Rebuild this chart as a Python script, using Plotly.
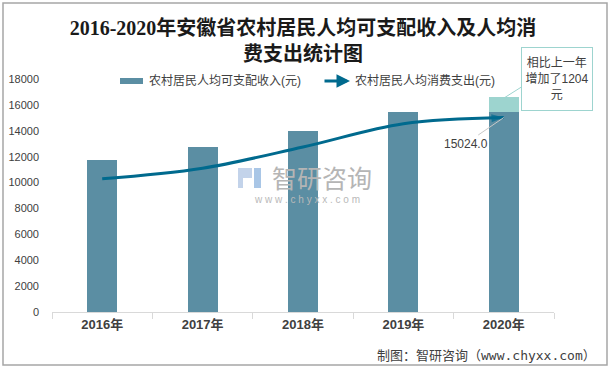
import plotly.graph_objects as go

years = ["2016年", "2017年", "2018年", "2019年", "2020年"]
income = [11720, 12758, 13996, 15416, 16620]
consumption = [10287, 11106, 12748, 14546, 15024]
y_ticks = [0, 2000, 4000, 6000, 8000, 10000, 12000, 14000, 16000, 18000]

title_text = "2016-2020年安徽省农村居民人均可支配收入及人均消<br>费支出统计图"
income_name = "农村居民人均可支配收入(元)"
cons_name = "农村居民人均消费支出(元)"
increase = income[-1] - income[-2]
callout_text = f"相比上一年<br>增加了{increase}<br>元"
footer_text = "制图：智研咨询（www.chyxx.com）"

W, H = 612, 369
L, R, T, B = 52, 58, 79, 57
PW, PH = W - L - R, H - T - B


def px(x):
    return (x - L) / PW


def py(y):
    return (H - B - y) / PH


BAR = "#5b8ea3"
LINE = "#006a8e"
LIGHT = "#9dd4cf"
TXT = "#404040"

base_part = income[:-1] + [income[-2]]
inc_part = [0] * (len(income) - 1) + [increase]

fig = go.Figure()
fig.add_trace(go.Bar(x=years, y=base_part, marker=dict(color=BAR, line=dict(width=0)),
                     width=0.3, name=income_name, showlegend=False))
fig.add_trace(go.Bar(x=years, y=inc_part, marker=dict(color=LIGHT, line=dict(width=0)),
                     width=0.3, showlegend=False))
fig.add_trace(go.Scatter(x=years, y=consumption, mode="lines+markers",
                         line=dict(color=LINE, width=3, shape="spline", smoothing=1),
                         marker=dict(symbol=["circle"] * 4 + ["arrow"],
                                     size=[0] * 4 + [13], color=LINE,
                                     angleref="previous", line=dict(width=0)),
                         name=cons_name, showlegend=False))

font_title = "Liberation Serif, Noto Sans CJK SC, serif"
font_main = "Liberation Sans, Noto Sans CJK SC, sans-serif"

annotations = [
    # legend texts
    dict(x=px(147), y=py(81), xref="paper", yref="paper", text=income_name,
         showarrow=False, xanchor="left", yanchor="middle",
         font=dict(size=12, color=TXT, family=font_main)),
    dict(x=px(353), y=py(81), xref="paper", yref="paper", text=cons_name,
         showarrow=False, xanchor="left", yanchor="middle",
         font=dict(size=12, color=TXT, family=font_main)),
    # legend arrow
    dict(x=px(350), y=py(81), ax=-27, ay=0, xref="paper", yref="paper",
         axref="pixel", ayref="pixel", text="", showarrow=True, arrowhead=2,
         arrowsize=0.9, arrowwidth=3, arrowcolor=LINE),
    # data label with leader
    dict(x=years[-1], y=consumption[-1], text=f"{consumption[-1]:.1f}", showarrow=True,
         arrowhead=0, arrowwidth=1, arrowcolor="#c8c8c8", ax=-38, ay=26,
         xanchor="center", yanchor="middle",
         font=dict(size=12, color=TXT, family=font_main)),
    # callout
    dict(x=px(557), y=py(79), xref="paper", yref="paper", text=callout_text,
         showarrow=False, xanchor="center", yanchor="middle", width=68, height=60,
         bordercolor=LIGHT, borderwidth=1, bgcolor="white",
         font=dict(size=12, color=TXT, family=font_main)),
    # watermark
    dict(x=px(322), y=py(177), xref="paper", yref="paper", text="智研咨询",
         showarrow=False, font=dict(size=25, color="#b5b5b5", family="Noto Sans CJK SC")),
    dict(x=px(307), y=py(199), xref="paper", yref="paper", text="w w w . c h y x x . c o m",
         showarrow=False, font=dict(size=10, color="#b9b9b9", family=font_main)),
    # footer
    dict(x=px(598), y=py(355), xref="paper", yref="paper", text=footer_text,
         showarrow=False, xanchor="right", yanchor="middle",
         font=dict(size=13, color=TXT, family="DejaVu Sans Mono, Noto Sans CJK SC")),
]

shapes = [
    # outer border
    dict(type="rect", xref="paper", yref="paper", x0=px(3), x1=px(607), y0=py(365), y1=py(3),
         line=dict(color="#a6a6a6", width=1.5), layer="below"),
    # legend swatch
    dict(type="rect", xref="paper", yref="paper", x0=px(120), x1=px(143), y0=py(84), y1=py(78),
         fillcolor=BAR, line=dict(width=0)),
    # callout pointer
    dict(type="line", xref="paper", yref="paper", x0=px(504), y0=py(98), x1=px(523), y1=py(86),
         line=dict(color=LIGHT, width=1)),
    # watermark icon (approximate)
    dict(type="path", xref="paper", yref="paper",
         path=f"M {px(238)},{py(168)} L {px(252)},{py(168)} L {px(252)},{py(178)} "
              f"L {px(243)},{py(178)} L {px(243)},{py(188)} L {px(238)},{py(188)} Z",
         fillcolor="#c3d3ea", line=dict(width=0)),
    dict(type="rect", xref="paper", yref="paper", x0=px(254), x1=px(261), y0=py(188), y1=py(168),
         fillcolor="#a9c6e6", line=dict(width=0)),
]

fig.update_layout(
    width=W, height=H, autosize=False, margin=dict(l=L, r=R, t=T, b=B),
    paper_bgcolor="white", plot_bgcolor="white", barmode="stack", showlegend=False,
    title=dict(text=title_text, x=0.5, xref="paper", xanchor="center", y=1 - 35 / H,
               yanchor="middle",
               font=dict(size=20, color="#1a1a1a", family=font_title, weight="bold")),
    xaxis=dict(showline=True, linecolor="#d9d9d9", linewidth=1, ticks="outside",
               tickson="boundaries", ticklen=6, tickcolor="#d9d9d9", showgrid=False,
               tickfont=dict(size=13, color=TXT, family=font_main, weight="bold")),
    yaxis=dict(range=[0, 18000], tickvals=y_ticks, ticktext=[str(v) for v in y_ticks],
               showgrid=False, zeroline=False, showline=False, ticks="",
               ticklabelstandoff=12, automargin=False,
               tickfont=dict(size=11, color=TXT, family=font_main)),
    annotations=annotations, shapes=shapes,
)

fig.write_html("out.html", config={"displayModeBar": False},
               post_script="document.body.style.margin='0';document.body.style.padding='0';")
